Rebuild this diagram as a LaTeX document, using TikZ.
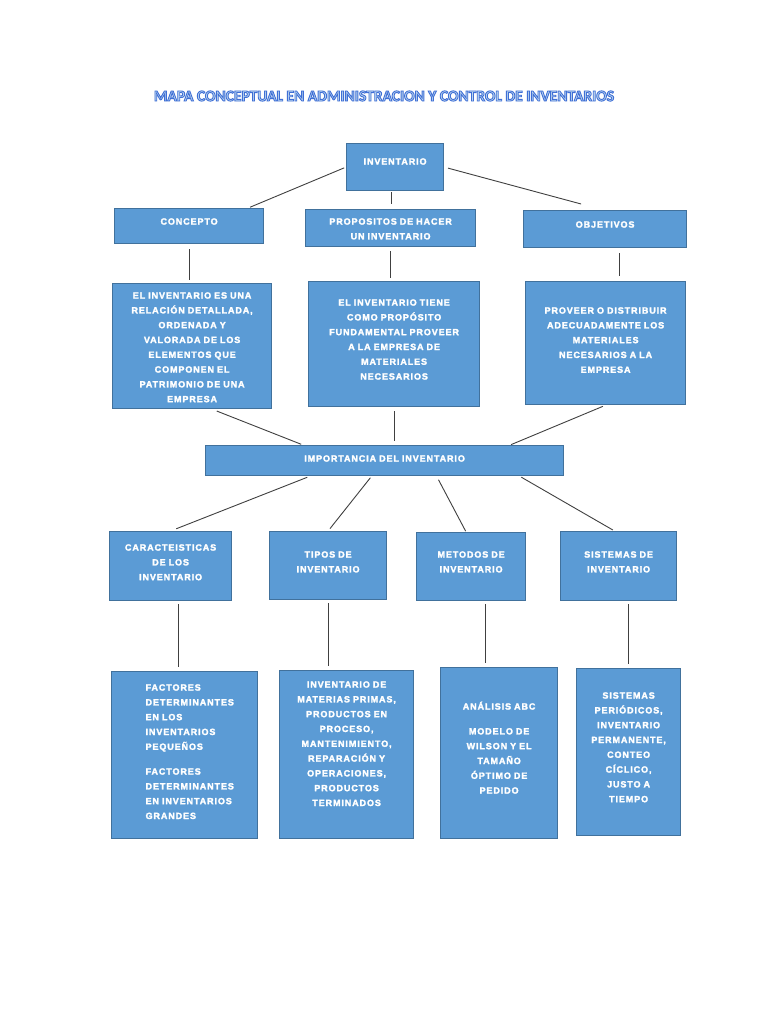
\documentclass[tikz,border=0pt]{standalone}
\usepackage{fontspec}
\newfontfamily\cajafont{Liberation Sans}[LetterSpace=10, BoldFeatures={FakeBold=2.5}]
\newfontfamily\titulofont{Carlito}
\definecolor{azul}{HTML}{5B9BD5}
\definecolor{bordeazul}{HTML}{41719C}
\definecolor{linea}{HTML}{404040}
\definecolor{titulofondo}{HTML}{BDD7EE}
\tikzset{
  caja/.style={draw=bordeazul, fill=azul, line width=1.2pt, anchor=north west,
    inner xsep=3pt, inner ysep=0pt, align=center, text=white,
    font=\cajafont\bfseries\fontsize{9}{14.8}\selectfont},
  enlace/.style={draw=linea, line width=0.9pt},
}
\begin{document}
\begin{tikzpicture}[x=1pt,y=-1pt]
\useasboundingbox[fill=white] (0,0) rectangle (768,1024);

% primer nivel
\node[caja, text width=91pt, text height=21pt, text depth=26pt] (inv) at (346,143) {INVENTARIO};
\node[caja, text width=143pt, text height=16pt, text depth=19pt] (con) at (114,208) {CONCEPTO};
\node[caja, text width=164pt, text height=15pt, text depth=22pt] (prop) at (305,209) {PROPOSITOS DE HACER\\UN INVENTARIO};
\node[caja, text width=157pt, text height=17pt, text depth=20pt] (obj) at (523,210) {OBJETIVOS};

\node[caja, text width=153pt, text height=15pt, text depth=110pt] (b1) at (112,283)
  {EL INVENTARIO ES UNA\\RELACIÓN DETALLADA,\\ORDENADA Y\\VALORADA DE LOS\\ELEMENTOS QUE\\COMPONEN EL\\PATRIMONIO DE UNA\\EMPRESA};
\node[caja, text width=165pt, text height=24pt, text depth=101pt] (b2) at (308,281)
  {EL INVENTARIO TIENE\\COMO PROPÓSITO\\FUNDAMENTAL PROVEER\\A LA EMPRESA DE\\MATERIALES\\NECESARIOS};
\node[caja, text width=154pt, text height=32pt, text depth=91pt] (b3) at (525,281)
  {PROVEER O DISTRIBUIR\\ADECUADAMENTE LOS\\MATERIALES\\NECESARIOS A LA\\EMPRESA};

% importancia
\node[caja, text width=352pt, text height=16pt, text depth=14pt] (imp) at (205,445) {IMPORTANCIA DEL INVENTARIO};

\node[caja, text width=116pt, text height=19pt, text depth=50pt] (car) at (109,531) {CARACTEISTICAS\\DE LOS\\INVENTARIO};
\node[caja, text width=111pt, text height=26pt, text depth=42pt] (tip) at (269,531) {TIPOS DE\\INVENTARIO};
\node[caja, text width=103pt, text height=25pt, text depth=43pt] (met) at (416,532) {METODOS DE\\INVENTARIO};
\node[caja, text width=110pt, text height=26pt, text depth=43pt] (sis) at (560,531) {SISTEMAS DE\\INVENTARIO};

\node[caja, align=left, inner xsep=34pt, text width=78pt, text height=19pt, text depth=148pt] (f1) at (111,671)
  {FACTORES\\DETERMINANTES\\\mbox{EN LOS}\\INVENTARIOS\\PEQUEÑOS\\[10pt]FACTORES\\DETERMINANTES\\\mbox{EN INVENTARIOS}\\GRANDES};
\node[caja, text width=128pt, text height=17pt, text depth=151pt] (f2) at (279,670)
  {INVENTARIO DE\\MATERIAS PRIMAS,\\PRODUCTOS EN\\PROCESO,\\MANTENIMIENTO,\\REPARACIÓN Y\\OPERACIONES,\\PRODUCTOS\\TERMINADOS};
\node[caja, text width=111pt, text height=42pt, text depth=129pt] (f3) at (440,667)
  {ANÁLISIS ABC\\[10pt]MODELO DE\\WILSON Y EL\\TAMAÑO\\ÓPTIMO DE\\PEDIDO};
\node[caja, text width=98pt, text height=30pt, text depth=137pt] (f4) at (576,668)
  {SISTEMAS\\PERIÓDICOS,\\INVENTARIO\\PERMANENTE,\\CONTEO\\CÍCLICO,\\JUSTO A\\TIEMPO};

% enlaces
\draw[enlace, shorten <=2pt, shorten >=2pt] (inv.west) -- ([xshift=-16pt]con.north east);
\draw[enlace, shorten <=1pt, shorten >=5pt] ([xshift=-4pt]inv.south) -- ([xshift=-4pt]inv.south |- prop.north);
\draw[enlace, shorten <=4pt] (inv.east) -- ([xshift=-24pt,yshift=6pt]obj.north);
\draw[enlace, shorten <=5pt, shorten >=3pt] (con.south) -- (con.south |- b1.north);
\draw[enlace, shorten <=4pt, shorten >=3pt] (prop.south) -- (prop.south |- b2.north);
\draw[enlace, shorten <=5pt, shorten >=5pt] ([xshift=14pt]obj.south) -- ([xshift=14pt]obj.south |- b3.north);
\draw[enlace, shorten <=5pt, shorten >=2pt] ([xshift=20pt]b1.south) -- ([xshift=98pt]imp.north west);
\draw[enlace, shorten <=4pt, shorten >=4pt] (b2.south) -- (b2.south |- imp.north);
\draw[enlace, shorten <=3pt, shorten >=1pt] (b3.south) -- ([xshift=-54pt]imp.north east);
\draw[enlace, shorten <=3pt, shorten >=6pt] ([xshift=105pt]imp.south west) -- (car.north);
\draw[enlace, shorten <=2pt, shorten >=3pt] ([xshift=-13pt]imp.south) -- (tip.north);
\draw[enlace, shorten <=4pt, shorten >=1pt] ([xshift=52pt]imp.south) -- ([xshift=-5pt]met.north);
\draw[enlace, shorten <=2pt, shorten >=2pt] ([xshift=135pt]imp.south) -- ([xshift=-4pt]sis.north);
\foreach \a/\b/\dx in {car/f1/8,tip/f2/0,met/f3/14,sis/f4/10}
  \draw[enlace, shorten <=3pt, shorten >=4pt] ([xshift=\dx pt]\a.south) -- ([xshift=\dx pt]\a.south |- \b.north);

% titulo
\node (titulo) at (384,96) {\titulofont\bfseries\fontsize{15.5}{18}\selectfont\color{titulofondo}%
  \special{pdf:literal direct 2 Tr 0.9 w 0.247 0.435 0.839 RG}MAPA CONCEPTUAL EN ADMINISTRACION Y CONTROL DE INVENTARIOS\special{pdf:literal direct 0 Tr}};
\end{tikzpicture}
\end{document}
